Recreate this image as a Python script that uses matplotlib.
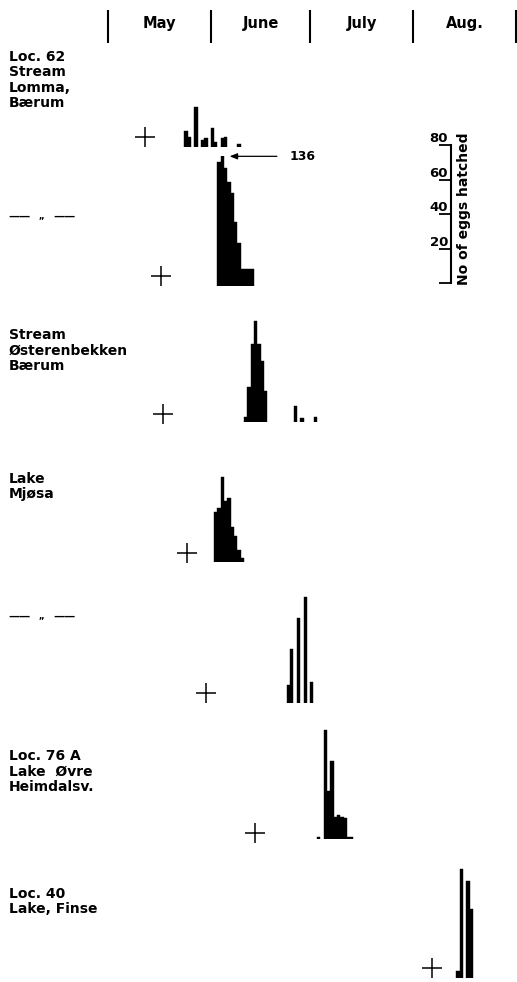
import matplotlib
matplotlib.use('Agg')
import matplotlib.pyplot as plt

plt.rcParams['font.family'] = ['DejaVu Sans']
plt.rcParams['font.weight'] = 'bold'

# Days counted from 1 May; egg counts per day
months = ['May', 'June', 'July', 'Aug.']
month_edges = [0, 31, 61, 92, 123]

lomma_days = [23, 24, 26, 28, 29, 31, 32, 34, 35, 39]
lomma_eggs = [9, 6, 23, 4, 5, 11, 3, 5, 6, 2]

lomma2_days = [33, 34, 35, 36, 37, 38, 39, 40, 41, 42, 43]
lomma2_eggs = [72, 136, 68, 60, 54, 37, 25, 10, 10, 10, 10]

oster_days = [41, 42, 43, 44, 45, 46, 47, 56, 58, 62]
oster_eggs = [3, 20, 45, 58, 45, 35, 18, 9, 2, 3]

mjosa_days = [32, 33, 34, 35, 36, 37, 38, 39, 40]
mjosa_eggs = [29, 31, 49, 35, 37, 20, 15, 7, 2]

mjosa2_days = [54, 55, 57, 59, 61]
mjosa2_eggs = [10, 31, 49, 61, 12]

heimdal_days = [63, 65, 66, 67, 68, 69, 70, 71, 72, 73]
heimdal_eggs = [1, 63, 28, 45, 13, 14, 13, 12, 1, 1]

finse_days = [105, 106, 108, 109]
finse_eggs = [4, 63, 56, 40]

# "+" marks for each series
plus_days = [11.2, 16.0, 16.7, 23.7, 29.5, 44.3, 97.6]
plus_level = [5.6, 5.8, 4.5, 4.9, 5.4, 3.3, 5.8]

panel_labels = ['Loc. 62\nStream\nLomma,\nBærum', None,
                'Stream\nØsterenbekken\nBærum', 'Lake\nMjøsa', None,
                'Loc. 76 A\nLake  Øvre\nHeimdalsv.', 'Loc. 40\nLake, Finse']

scale_ticks = [0, 20, 40, 60, 80]
scale_labels = ['', '20', '40', '60', '80']

# layout in pixels
W, H = 517, 982
X_MAY1 = 108
PX_DAY = 408 / 123
PX_EGG = 1.729
XLIM = (-X_MAY1 / PX_DAY, (W - X_MAY1) / PX_DAY)

baselines = [147, 286, 421.7, 561.7, 702.7, 839, 978.3]
label_tops = [50, 217, 328, 472, 617, 749, 887]
widths = [1.0, 1.0, 1.0, 1.0, 0.85, 1.0, 1.0]

fig = plt.figure(figsize=(W / 100, H / 100), dpi=100)


def panel_axes(base_px, top):
    ax = fig.add_axes([0, 1 - base_px / H, 1, top * PX_EGG / H])
    ax.set_xlim(XLIM)
    ax.set_ylim(0, top)
    ax.axis('off')
    ax.patch.set_alpha(0)
    return ax


# month header
hax = fig.add_axes([0, 1 - 43 / H, 1, 33 / H])
hax.set_xlim(XLIM)
hax.set_ylim(0, 1)
hax.axis('off')
hax.vlines(month_edges, 0, 1, color='black', lw=1.5)
for i, m in enumerate(months):
    hax.text((month_edges[i] + month_edges[i + 1]) / 2, 0.6, m,
             ha='center', va='center', fontsize=10.5)

series = [(lomma_days, lomma_eggs), (lomma2_days, lomma2_eggs),
          (oster_days, oster_eggs), (mjosa_days, mjosa_eggs),
          (mjosa2_days, mjosa2_eggs), (heimdal_days, heimdal_eggs),
          (finse_days, finse_eggs)]

for i, (days, eggs) in enumerate(series):
    top = 75 if i == 1 else 70
    ax = panel_axes(baselines[i], top)
    ax.bar(days, eggs, width=widths[i], align='edge', color='black',
           edgecolor='black', linewidth=0.3)
    ax.plot(plus_days[i], plus_level[i], marker='+', ms=14, mew=1.1,
            color='black', clip_on=False)
    if i == 1:
        # off-scale bar: value written next to an arrow
        k = eggs.index(max(eggs))
        ax.annotate(str(max(eggs)), xy=(days[k] + 1, top),
                    xytext=(47, 0), textcoords='offset points',
                    ha='left', va='center', fontsize=9,
                    arrowprops=dict(arrowstyle='-|>,head_length=0.5,head_width=0.2',
                                    color='black', lw=0.9, shrinkA=7, shrinkB=4))

    lab = panel_labels[i]
    y = 1 - label_tops[i] / H
    if lab is None:
        fig.text(8 / W, y, '——', ha='left', va='center', fontsize=8)
        fig.text(42 / W, y, ',,', ha='center', va='center', fontsize=6)
        fig.text(53 / W, y, '——', ha='left', va='center', fontsize=8)
    else:
        fig.text(9 / W, y, lab, ha='left', va='top', fontsize=10,
                 linespacing=1.12)

# scale bar for number of eggs
sax = fig.add_axes([450.7 / W, 1 - 283.3 / H, 0.0001, 80 * PX_EGG / H])
sax.set_ylim(0, 80)
sax.patch.set_alpha(0)
for s in ['top', 'right', 'bottom']:
    sax.spines[s].set_visible(False)
sax.spines['left'].set_linewidth(1.5)
sax.set_xticks([])
sax.set_yticks(scale_ticks)
sax.set_yticklabels(scale_labels)
sax.tick_params(axis='y', direction='out', length=9, width=1.3, pad=-7,
                labelsize=9.5)
for t in sax.get_yticklabels():
    t.set_va('bottom')
    t.set_fontweight('bold')
fig.text(464 / W, 1 - 209 / H, 'No of eggs hatched', rotation=90,
         ha='center', va='center', fontsize=10)

fig.savefig('out.png', dpi=100)
